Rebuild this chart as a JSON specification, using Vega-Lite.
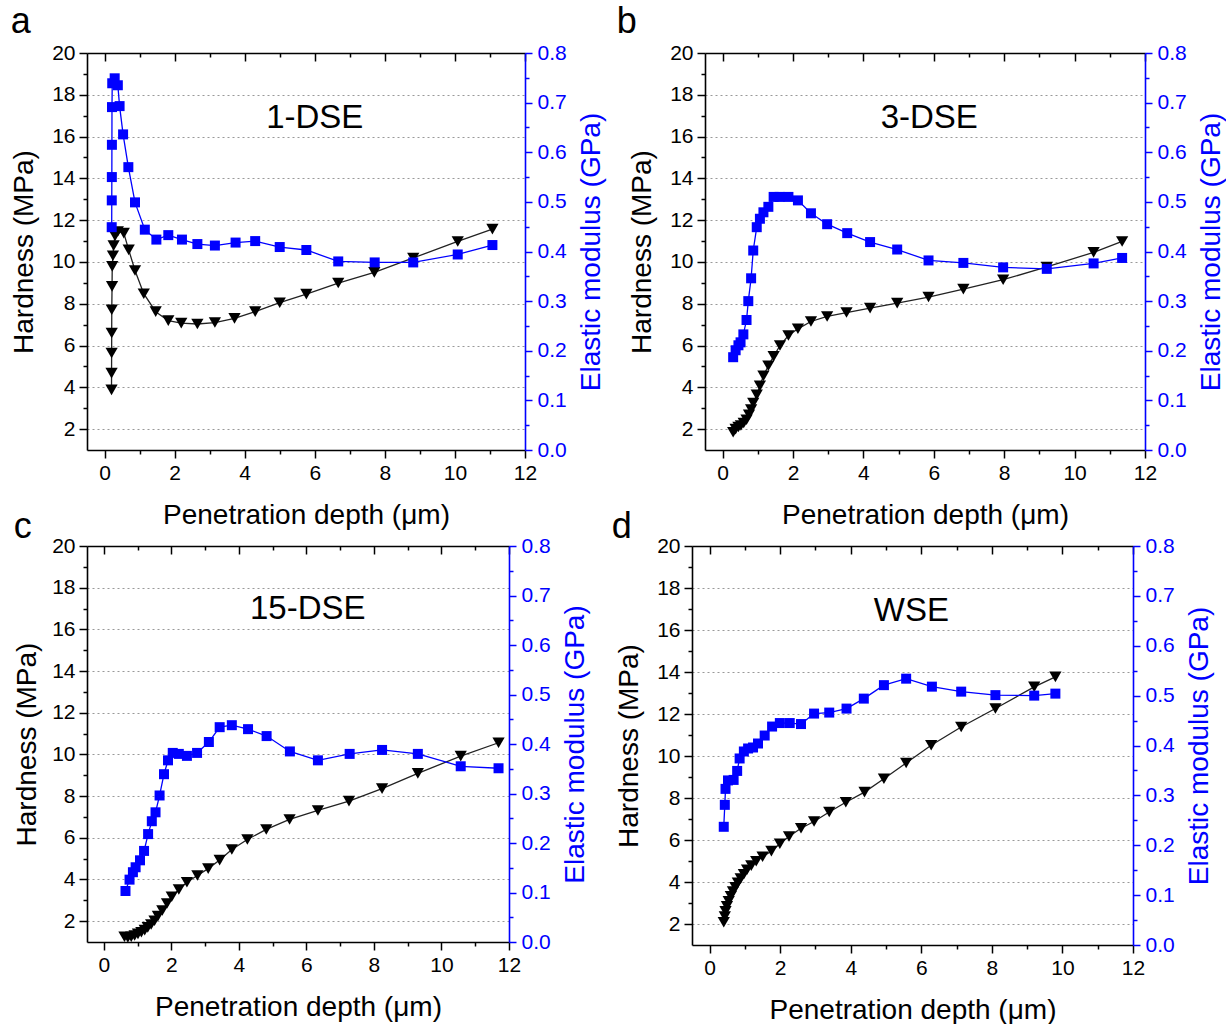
{
  "$schema": "https://vega.github.io/schema/vega-lite/v6.json",
  "padding": {"left": 10, "top": 4, "right": 0, "bottom": 0},
  "config": {
    "font": "Liberation Sans",
    "view": {"stroke": null},
    "axis": {"labelFontSize": 21, "titleFontSize": 28, "labelColor": "black", "titleColor": "black", "titleFontWeight": "normal", "domainColor": "black", "tickColor": "black", "domainWidth": 1.6, "tickWidth": 1.5, "labelOverlap": false, "labelFlush": false},
    "title": {"fontSize": 36, "fontWeight": "normal", "anchor": "start", "frame": "bounds", "color": "black"}
  },
  "datasets": {
    "a_h": [{"depth":0.200,"hardness":3.88},{"depth":0.201,"hardness":4.68},{"depth":0.203,"hardness":5.64},{"depth":0.205,"hardness":6.60},{"depth":0.207,"hardness":7.71},{"depth":0.215,"hardness":8.83},{"depth":0.22,"hardness":9.79},{"depth":0.24,"hardness":10.30},{"depth":0.26,"hardness":10.78},{"depth":0.30,"hardness":11.25},{"depth":0.38,"hardness":11.46},{"depth":0.55,"hardness":11.38},{"depth":0.69,"hardness":10.58},{"depth":0.87,"hardness":9.59},{"depth":1.12,"hardness":8.48},{"depth":1.46,"hardness":7.62},{"depth":1.82,"hardness":7.19},{"depth":2.19,"hardness":7.07},{"depth":2.65,"hardness":7.03},{"depth":3.15,"hardness":7.10},{"depth":3.71,"hardness":7.30},{"depth":4.30,"hardness":7.62},{"depth":5.00,"hardness":8.05},{"depth":5.76,"hardness":8.46},{"depth":6.67,"hardness":8.99},{"depth":7.70,"hardness":9.50},{"depth":8.81,"hardness":10.19},{"depth":10.08,"hardness":10.98},{"depth":11.07,"hardness":11.57}],
    "a_m": [{"depth":0.205,"modulus":0.449},{"depth":0.207,"modulus":0.503},{"depth":0.209,"modulus":0.550},{"depth":0.211,"modulus":0.615},{"depth":0.213,"modulus":0.691},{"depth":0.22,"modulus":0.739},{"depth":0.29,"modulus":0.749},{"depth":0.38,"modulus":0.735},{"depth":0.43,"modulus":0.693},{"depth":0.53,"modulus":0.636},{"depth":0.68,"modulus":0.570},{"depth":0.87,"modulus":0.499},{"depth":1.15,"modulus":0.444},{"depth":1.48,"modulus":0.424},{"depth":1.82,"modulus":0.433},{"depth":2.21,"modulus":0.424},{"depth":2.65,"modulus":0.415},{"depth":3.15,"modulus":0.412},{"depth":3.74,"modulus":0.418},{"depth":4.30,"modulus":0.421},{"depth":5.00,"modulus":0.409},{"depth":5.76,"modulus":0.403},{"depth":6.67,"modulus":0.380},{"depth":7.71,"modulus":0.378},{"depth":8.81,"modulus":0.378},{"depth":10.08,"modulus":0.394},{"depth":11.07,"modulus":0.413}],
    "b_h": [{"depth":0.30,"hardness":1.85},{"depth":0.37,"hardness":2.00},{"depth":0.45,"hardness":2.10},{"depth":0.52,"hardness":2.17},{"depth":0.60,"hardness":2.29},{"depth":0.68,"hardness":2.45},{"depth":0.75,"hardness":2.69},{"depth":0.81,"hardness":2.93},{"depth":0.87,"hardness":3.25},{"depth":0.97,"hardness":3.64},{"depth":1.06,"hardness":4.07},{"depth":1.16,"hardness":4.55},{"depth":1.30,"hardness":5.03},{"depth":1.45,"hardness":5.48},{"depth":1.63,"hardness":6.00},{"depth":1.87,"hardness":6.48},{"depth":2.14,"hardness":6.80},{"depth":2.51,"hardness":7.15},{"depth":2.97,"hardness":7.39},{"depth":3.52,"hardness":7.58},{"depth":4.19,"hardness":7.79},{"depth":4.96,"hardness":8.03},{"depth":5.85,"hardness":8.32},{"depth":6.84,"hardness":8.70},{"depth":7.97,"hardness":9.15},{"depth":9.21,"hardness":9.76},{"depth":10.54,"hardness":10.46},{"depth":11.35,"hardness":10.98}],
    "b_m": [{"depth":0.30,"modulus":0.187},{"depth":0.37,"modulus":0.201},{"depth":0.45,"modulus":0.211},{"depth":0.51,"modulus":0.217},{"depth":0.59,"modulus":0.233},{"depth":0.68,"modulus":0.262},{"depth":0.73,"modulus":0.300},{"depth":0.81,"modulus":0.346},{"depth":0.87,"modulus":0.402},{"depth":0.97,"modulus":0.449},{"depth":1.06,"modulus":0.466},{"depth":1.16,"modulus":0.479},{"depth":1.30,"modulus":0.490},{"depth":1.45,"modulus":0.510},{"depth":1.62,"modulus":0.510},{"depth":1.87,"modulus":0.510},{"depth":2.14,"modulus":0.503},{"depth":2.51,"modulus":0.477},{"depth":2.97,"modulus":0.455},{"depth":3.54,"modulus":0.437},{"depth":4.19,"modulus":0.419},{"depth":4.96,"modulus":0.404},{"depth":5.85,"modulus":0.382},{"depth":6.84,"modulus":0.377},{"depth":7.97,"modulus":0.368},{"depth":9.21,"modulus":0.365},{"depth":10.54,"modulus":0.376},{"depth":11.35,"modulus":0.387}],
    "c_h": [{"depth":0.61,"hardness":1.25},{"depth":0.71,"hardness":1.22},{"depth":0.81,"hardness":1.25},{"depth":0.91,"hardness":1.31},{"depth":1.01,"hardness":1.39},{"depth":1.11,"hardness":1.47},{"depth":1.21,"hardness":1.57},{"depth":1.30,"hardness":1.70},{"depth":1.40,"hardness":1.84},{"depth":1.50,"hardness":2.02},{"depth":1.60,"hardness":2.24},{"depth":1.73,"hardness":2.51},{"depth":1.87,"hardness":2.85},{"depth":2.01,"hardness":3.17},{"depth":2.22,"hardness":3.52},{"depth":2.46,"hardness":3.87},{"depth":2.77,"hardness":4.19},{"depth":3.09,"hardness":4.52},{"depth":3.43,"hardness":4.93},{"depth":3.79,"hardness":5.44},{"depth":4.25,"hardness":5.92},{"depth":4.81,"hardness":6.40},{"depth":5.50,"hardness":6.88},{"depth":6.34,"hardness":7.31},{"depth":7.26,"hardness":7.76},{"depth":8.24,"hardness":8.36},{"depth":9.30,"hardness":9.09},{"depth":10.57,"hardness":9.92},{"depth":11.69,"hardness":10.56}],
    "c_m": [{"depth":0.64,"modulus":0.103},{"depth":0.76,"modulus":0.126},{"depth":0.86,"modulus":0.141},{"depth":0.94,"modulus":0.151},{"depth":1.07,"modulus":0.165},{"depth":1.19,"modulus":0.184},{"depth":1.31,"modulus":0.218},{"depth":1.42,"modulus":0.244},{"depth":1.53,"modulus":0.262},{"depth":1.65,"modulus":0.296},{"depth":1.78,"modulus":0.339},{"depth":1.90,"modulus":0.367},{"depth":2.04,"modulus":0.382},{"depth":2.22,"modulus":0.380},{"depth":2.46,"modulus":0.376},{"depth":2.76,"modulus":0.382},{"depth":3.11,"modulus":0.404},{"depth":3.43,"modulus":0.434},{"depth":3.79,"modulus":0.438},{"depth":4.27,"modulus":0.430},{"depth":4.82,"modulus":0.416},{"depth":5.51,"modulus":0.385},{"depth":6.34,"modulus":0.367},{"depth":7.28,"modulus":0.380},{"depth":8.24,"modulus":0.388},{"depth":9.30,"modulus":0.380},{"depth":10.57,"modulus":0.355},{"depth":11.69,"modulus":0.351}],
    "d_h": [{"depth":0.40,"hardness":2.08},{"depth":0.43,"hardness":2.35},{"depth":0.45,"hardness":2.60},{"depth":0.49,"hardness":2.84},{"depth":0.54,"hardness":3.08},{"depth":0.60,"hardness":3.32},{"depth":0.66,"hardness":3.54},{"depth":0.73,"hardness":3.75},{"depth":0.80,"hardness":3.96},{"depth":0.88,"hardness":4.16},{"depth":0.97,"hardness":4.37},{"depth":1.06,"hardness":4.58},{"depth":1.18,"hardness":4.78},{"depth":1.32,"hardness":4.99},{"depth":1.50,"hardness":5.20},{"depth":1.75,"hardness":5.47},{"depth":1.99,"hardness":5.82},{"depth":2.25,"hardness":6.17},{"depth":2.59,"hardness":6.56},{"depth":2.96,"hardness":6.88},{"depth":3.39,"hardness":7.33},{"depth":3.86,"hardness":7.80},{"depth":4.39,"hardness":8.28},{"depth":4.94,"hardness":8.92},{"depth":5.57,"hardness":9.67},{"depth":6.28,"hardness":10.51},{"depth":7.13,"hardness":11.38},{"depth":8.10,"hardness":12.26},{"depth":9.20,"hardness":13.29},{"depth":9.80,"hardness":13.77}],
    "d_m": [{"depth":0.40,"modulus":0.237},{"depth":0.43,"modulus":0.281},{"depth":0.45,"modulus":0.313},{"depth":0.52,"modulus":0.330},{"depth":0.68,"modulus":0.331},{"depth":0.78,"modulus":0.349},{"depth":0.85,"modulus":0.374},{"depth":0.97,"modulus":0.388},{"depth":1.09,"modulus":0.394},{"depth":1.23,"modulus":0.396},{"depth":1.37,"modulus":0.404},{"depth":1.56,"modulus":0.420},{"depth":1.77,"modulus":0.438},{"depth":1.99,"modulus":0.445},{"depth":2.27,"modulus":0.445},{"depth":2.59,"modulus":0.443},{"depth":2.96,"modulus":0.464},{"depth":3.39,"modulus":0.466},{"depth":3.88,"modulus":0.474},{"depth":4.37,"modulus":0.494},{"depth":4.94,"modulus":0.521},{"depth":5.57,"modulus":0.534},{"depth":6.30,"modulus":0.518},{"depth":7.13,"modulus":0.508},{"depth":8.10,"modulus":0.501},{"depth":9.20,"modulus":0.500},{"depth":9.80,"modulus":0.504}]
  },
  "vconcat": [
    {
      "spacing": 10,
      "hconcat": [
        {
          "title": {"text": "a", "offset": 1},
          "width": 438, "height": 397,
          "layer": [
            {"data": {"name": "a_h"},
             "mark": {"type": "line", "color": "#222222", "strokeWidth": 1.3, "point": {"shape": "triangle-down", "size": 150, "filled": true, "color": "black", "opacity": 1}},
             "encoding": {
               "x": {"field": "depth", "type": "quantitative", "scale": {"domain": [-0.5, 12], "nice": false, "zero": false}, "axis": {"orient": "bottom", "values": [0,1,2,3,4,5,6,7,8,9,10,11,12], "labelExpr": "datum.value % 2 == 0 ? datum.label : ''", "tickSize": {"condition": {"test": "datum.value % 2 == 0", "value": 8}, "value": 4}, "title": "Penetration depth (μm)", "labelPadding": 4, "titlePadding": 18, "grid": false}},
               "y": {"field": "hardness", "type": "quantitative", "scale": {"domain": [1, 20], "nice": false, "zero": false}, "axis": {"orient": "left", "values": [2,3,4,5,6,7,8,9,10,11,12,13,14,15,16,17,18,19,20], "labelExpr": "datum.value % 2 == 0 ? datum.label : ''", "tickSize": {"condition": {"test": "datum.value % 2 == 0", "value": 8}, "value": 4}, "grid": true, "gridDash": [2, 3], "gridColor": "#999999", "gridWidth": 1, "gridOpacity": {"condition": {"test": "datum.value % 2 == 0", "value": 1}, "value": 0}, "title": "Hardness (MPa)", "labelPadding": 4, "titlePadding": 13}}
             }},
            {"data": {"name": "a_m"},
             "mark": {"type": "line", "color": "#0000ff", "strokeWidth": 1.3, "point": {"shape": "square", "size": 100, "filled": true, "color": "#0000ff", "opacity": 1}},
             "encoding": {
               "x": {"field": "depth", "type": "quantitative", "scale": {"domain": [-0.5, 12], "nice": false, "zero": false}, "axis": {"orient": "top", "values": [0,1,2,3,4,5,6,7,8,9,10,11,12], "labels": false, "title": null, "tickSize": {"condition": {"test": "datum.value % 2 == 0", "value": -8}, "value": -4}, "grid": false}},
               "y": {"field": "modulus", "type": "quantitative", "scale": {"domain": [0, 0.8], "nice": false, "zero": false}, "axis": {"orient": "right", "values": [0,0.05,0.1,0.15,0.2,0.25,0.3,0.35,0.4,0.45,0.5,0.55,0.6,0.65,0.7,0.75,0.8], "labelExpr": "round(datum.value*100) % 10 == 0 ? format(datum.value, '.1f') : ''", "tickSize": {"condition": {"test": "round(datum.value*100) % 10 == 0", "value": 7}, "value": 4}, "domainColor": "#0000ff", "tickColor": "#0000ff", "labelColor": "#0000ff", "titleColor": "#0000ff", "title": "Elastic modulus (GPa)", "titleAngle": 270, "titleBaseline": "top", "labelPadding": 5, "titlePadding": 11, "grid": false}}
             }},
            {"data": {"values": [{"depth": 6.0, "hardness": 16.9, "label": "1-DSE"}]},
             "mark": {"type": "text", "fontSize": 33, "color": "black"},
             "encoding": {
               "x": {"field": "depth", "type": "quantitative", "scale": {"domain": [-0.5, 12], "nice": false, "zero": false}, "axis": null},
               "y": {"field": "hardness", "type": "quantitative", "scale": {"domain": [1, 20], "nice": false, "zero": false}, "axis": null},
               "text": {"field": "label"}
             }}
          ],
          "resolve": {"scale": {"y": "independent"}, "axis": {"x": "independent"}}
        },
        {
          "title": {"text": "b", "offset": 1, "dx": -12},
          "width": 440, "height": 397,
          "layer": [
            {"data": {"name": "b_h"},
             "mark": {"type": "line", "color": "#222222", "strokeWidth": 1.3, "point": {"shape": "triangle-down", "size": 150, "filled": true, "color": "black", "opacity": 1}},
             "encoding": {
               "x": {"field": "depth", "type": "quantitative", "scale": {"domain": [-0.5, 12], "nice": false, "zero": false}, "axis": {"orient": "bottom", "values": [0,1,2,3,4,5,6,7,8,9,10,11,12], "labelExpr": "datum.value % 2 == 0 ? datum.label : ''", "tickSize": {"condition": {"test": "datum.value % 2 == 0", "value": 8}, "value": 4}, "title": "Penetration depth (μm)", "labelPadding": 4, "titlePadding": 18, "grid": false}},
               "y": {"field": "hardness", "type": "quantitative", "scale": {"domain": [1, 20], "nice": false, "zero": false}, "axis": {"orient": "left", "values": [2,3,4,5,6,7,8,9,10,11,12,13,14,15,16,17,18,19,20], "labelExpr": "datum.value % 2 == 0 ? datum.label : ''", "tickSize": {"condition": {"test": "datum.value % 2 == 0", "value": 8}, "value": 4}, "grid": true, "gridDash": [2, 3], "gridColor": "#999999", "gridWidth": 1, "gridOpacity": {"condition": {"test": "datum.value % 2 == 0", "value": 1}, "value": 0}, "title": "Hardness (MPa)", "labelPadding": 4, "titlePadding": 13}}
             }},
            {"data": {"name": "b_m"},
             "mark": {"type": "line", "color": "#0000ff", "strokeWidth": 1.3, "point": {"shape": "square", "size": 100, "filled": true, "color": "#0000ff", "opacity": 1}},
             "encoding": {
               "x": {"field": "depth", "type": "quantitative", "scale": {"domain": [-0.5, 12], "nice": false, "zero": false}, "axis": {"orient": "top", "values": [0,1,2,3,4,5,6,7,8,9,10,11,12], "labels": false, "title": null, "tickSize": {"condition": {"test": "datum.value % 2 == 0", "value": -8}, "value": -4}, "grid": false}},
               "y": {"field": "modulus", "type": "quantitative", "scale": {"domain": [0, 0.8], "nice": false, "zero": false}, "axis": {"orient": "right", "values": [0,0.05,0.1,0.15,0.2,0.25,0.3,0.35,0.4,0.45,0.5,0.55,0.6,0.65,0.7,0.75,0.8], "labelExpr": "round(datum.value*100) % 10 == 0 ? format(datum.value, '.1f') : ''", "tickSize": {"condition": {"test": "round(datum.value*100) % 10 == 0", "value": 7}, "value": 4}, "domainColor": "#0000ff", "tickColor": "#0000ff", "labelColor": "#0000ff", "titleColor": "#0000ff", "title": "Elastic modulus (GPa)", "titleAngle": 270, "titleBaseline": "top", "labelPadding": 5, "titlePadding": 11, "grid": false}}
             }},
            {"data": {"values": [{"depth": 5.87, "hardness": 16.9, "label": "3-DSE"}]},
             "mark": {"type": "text", "fontSize": 33, "color": "black"},
             "encoding": {
               "x": {"field": "depth", "type": "quantitative", "scale": {"domain": [-0.5, 12], "nice": false, "zero": false}, "axis": null},
               "y": {"field": "hardness", "type": "quantitative", "scale": {"domain": [1, 20], "nice": false, "zero": false}, "axis": null},
               "text": {"field": "label"}
             }}
          ],
          "resolve": {"scale": {"y": "independent"}, "axis": {"x": "independent"}}
        }
      ]
    },
    {
      "spacing": 21,
      "hconcat": [
        {
          "title": {"text": "c", "offset": 1, "dy": 12},
          "width": 422, "height": 396,
          "layer": [
            {"data": {"name": "c_h"},
             "mark": {"type": "line", "color": "#222222", "strokeWidth": 1.3, "point": {"shape": "triangle-down", "size": 150, "filled": true, "color": "black", "opacity": 1}},
             "encoding": {
               "x": {"field": "depth", "type": "quantitative", "scale": {"domain": [-0.5, 12], "nice": false, "zero": false}, "axis": {"orient": "bottom", "values": [0,1,2,3,4,5,6,7,8,9,10,11,12], "labelExpr": "datum.value % 2 == 0 ? datum.label : ''", "tickSize": {"condition": {"test": "datum.value % 2 == 0", "value": 8}, "value": 4}, "title": "Penetration depth (μm)", "labelPadding": 4, "titlePadding": 18, "grid": false}},
               "y": {"field": "hardness", "type": "quantitative", "scale": {"domain": [1, 20], "nice": false, "zero": false}, "axis": {"orient": "left", "values": [2,3,4,5,6,7,8,9,10,11,12,13,14,15,16,17,18,19,20], "labelExpr": "datum.value % 2 == 0 ? datum.label : ''", "tickSize": {"condition": {"test": "datum.value % 2 == 0", "value": 8}, "value": 4}, "grid": true, "gridDash": [2, 3], "gridColor": "#999999", "gridWidth": 1, "gridOpacity": {"condition": {"test": "datum.value % 2 == 0", "value": 1}, "value": 0}, "title": "Hardness (MPa)", "labelPadding": 4, "titlePadding": 10}}
             }},
            {"data": {"name": "c_m"},
             "mark": {"type": "line", "color": "#0000ff", "strokeWidth": 1.3, "point": {"shape": "square", "size": 100, "filled": true, "color": "#0000ff", "opacity": 1}},
             "encoding": {
               "x": {"field": "depth", "type": "quantitative", "scale": {"domain": [-0.5, 12], "nice": false, "zero": false}, "axis": {"orient": "top", "values": [0,1,2,3,4,5,6,7,8,9,10,11,12], "labels": false, "title": null, "tickSize": {"condition": {"test": "datum.value % 2 == 0", "value": -8}, "value": -4}, "grid": false}},
               "y": {"field": "modulus", "type": "quantitative", "scale": {"domain": [0, 0.8], "nice": false, "zero": false}, "axis": {"orient": "right", "values": [0,0.05,0.1,0.15,0.2,0.25,0.3,0.35,0.4,0.45,0.5,0.55,0.6,0.65,0.7,0.75,0.8], "labelExpr": "round(datum.value*100) % 10 == 0 ? format(datum.value, '.1f') : ''", "tickSize": {"condition": {"test": "round(datum.value*100) % 10 == 0", "value": 7}, "value": 4}, "domainColor": "#0000ff", "tickColor": "#0000ff", "labelColor": "#0000ff", "titleColor": "#0000ff", "title": "Elastic modulus (GPa)", "titleAngle": 270, "titleBaseline": "top", "labelPadding": 5, "titlePadding": 11, "grid": false}}
             }},
            {"data": {"values": [{"depth": 6.04, "hardness": 16.96, "label": "15-DSE"}]},
             "mark": {"type": "text", "fontSize": 33, "color": "black"},
             "encoding": {
               "x": {"field": "depth", "type": "quantitative", "scale": {"domain": [-0.5, 12], "nice": false, "zero": false}, "axis": null},
               "y": {"field": "hardness", "type": "quantitative", "scale": {"domain": [1, 20], "nice": false, "zero": false}, "axis": null},
               "text": {"field": "label"}
             }}
          ],
          "resolve": {"scale": {"y": "independent"}, "axis": {"x": "independent"}}
        },
        {
          "title": {"text": "d", "offset": 1, "dx": -4, "dy": 12},
          "width": 441, "height": 399,
          "layer": [
            {"data": {"name": "d_h"},
             "mark": {"type": "line", "color": "#222222", "strokeWidth": 1.3, "point": {"shape": "triangle-down", "size": 150, "filled": true, "color": "black", "opacity": 1}},
             "encoding": {
               "x": {"field": "depth", "type": "quantitative", "scale": {"domain": [-0.5, 12], "nice": false, "zero": false}, "axis": {"orient": "bottom", "values": [0,1,2,3,4,5,6,7,8,9,10,11,12], "labelExpr": "datum.value % 2 == 0 ? datum.label : ''", "tickSize": {"condition": {"test": "datum.value % 2 == 0", "value": 8}, "value": 4}, "title": "Penetration depth (μm)", "labelPadding": 4, "titlePadding": 18, "grid": false}},
               "y": {"field": "hardness", "type": "quantitative", "scale": {"domain": [1, 20], "nice": false, "zero": false}, "axis": {"orient": "left", "values": [2,3,4,5,6,7,8,9,10,11,12,13,14,15,16,17,18,19,20], "labelExpr": "datum.value % 2 == 0 ? datum.label : ''", "tickSize": {"condition": {"test": "datum.value % 2 == 0", "value": 8}, "value": 4}, "grid": true, "gridDash": [2, 3], "gridColor": "#999999", "gridWidth": 1, "gridOpacity": {"condition": {"test": "datum.value % 2 == 0", "value": 1}, "value": 0}, "title": "Hardness (MPa)", "labelPadding": 4, "titlePadding": 13}}
             }},
            {"data": {"name": "d_m"},
             "mark": {"type": "line", "color": "#0000ff", "strokeWidth": 1.3, "point": {"shape": "square", "size": 100, "filled": true, "color": "#0000ff", "opacity": 1}},
             "encoding": {
               "x": {"field": "depth", "type": "quantitative", "scale": {"domain": [-0.5, 12], "nice": false, "zero": false}, "axis": {"orient": "top", "values": [0,1,2,3,4,5,6,7,8,9,10,11,12], "labels": false, "title": null, "tickSize": {"condition": {"test": "datum.value % 2 == 0", "value": -8}, "value": -4}, "grid": false}},
               "y": {"field": "modulus", "type": "quantitative", "scale": {"domain": [0, 0.8], "nice": false, "zero": false}, "axis": {"orient": "right", "values": [0,0.05,0.1,0.15,0.2,0.25,0.3,0.35,0.4,0.45,0.5,0.55,0.6,0.65,0.7,0.75,0.8], "labelExpr": "round(datum.value*100) % 10 == 0 ? format(datum.value, '.1f') : ''", "tickSize": {"condition": {"test": "round(datum.value*100) % 10 == 0", "value": 7}, "value": 4}, "domainColor": "#0000ff", "tickColor": "#0000ff", "labelColor": "#0000ff", "titleColor": "#0000ff", "title": "Elastic modulus (GPa)", "titleAngle": 270, "titleBaseline": "top", "labelPadding": 5, "titlePadding": 11, "grid": false}}
             }},
            {"data": {"values": [{"depth": 5.72, "hardness": 16.9, "label": "WSE"}]},
             "mark": {"type": "text", "fontSize": 33, "color": "black"},
             "encoding": {
               "x": {"field": "depth", "type": "quantitative", "scale": {"domain": [-0.5, 12], "nice": false, "zero": false}, "axis": null},
               "y": {"field": "hardness", "type": "quantitative", "scale": {"domain": [1, 20], "nice": false, "zero": false}, "axis": null},
               "text": {"field": "label"}
             }}
          ],
          "resolve": {"scale": {"y": "independent"}, "axis": {"x": "independent"}}
        }
      ]
    }
  ],
  "spacing": -20
}
